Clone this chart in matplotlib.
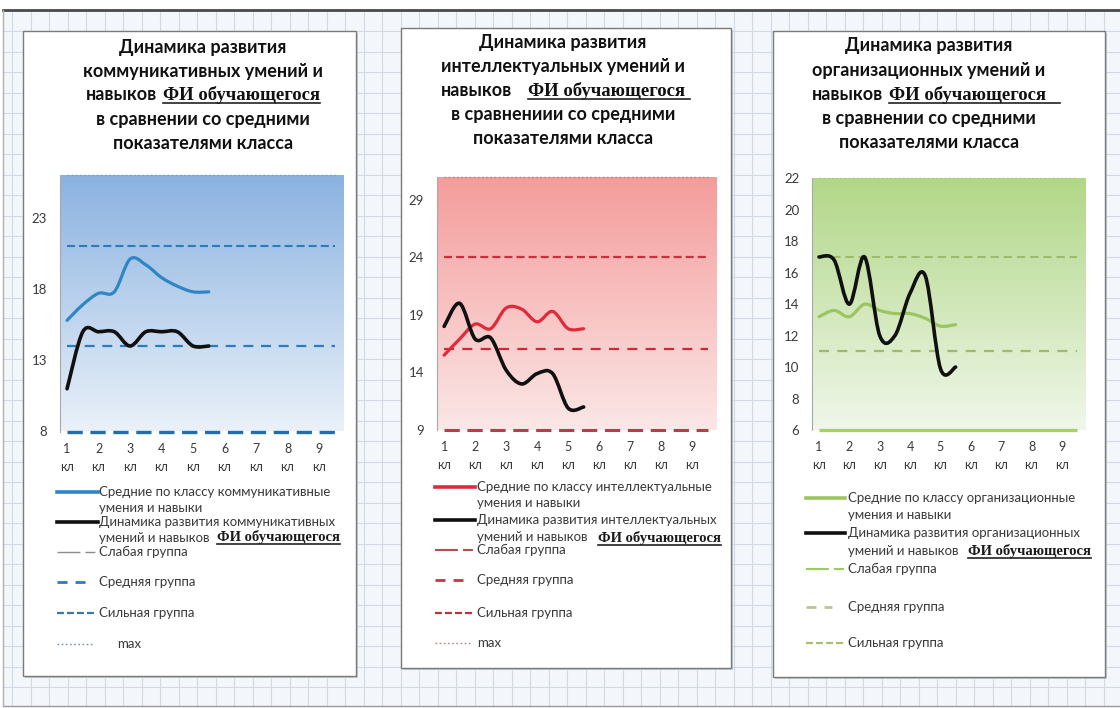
import matplotlib
matplotlib.use("Agg")
import matplotlib.pyplot as plt
from matplotlib.path import Path
from matplotlib.patches import PathPatch, Rectangle
from matplotlib.colors import LinearSegmentedColormap
from matplotlib.lines import Line2D
import numpy as np

# ---------------- data ----------------
grades = [1, 1.5, 2, 2.5, 3, 3.5, 4, 4.5, 5, 5.5]
class_positions = [1, 2, 3, 4, 5, 6, 7, 8, 9]
class_labels = ["1\nкл", "2\nкл", "3\nкл", "4\nкл", "5\nкл", "6\nкл", "7\nкл", "8\nкл", "9\nкл"]

comm_class_avg = [15.8, 16.9, 17.7, 17.8, 20.1, 19.7, 18.8, 18.2, 17.8, 17.8]
comm_student = [11.0, 15.0, 15.0, 15.0, 14.0, 15.0, 15.0, 15.0, 14.0, 14.0]
comm_levels = {"weak": 8, "medium": 14, "strong": 21, "max": 26}
comm_yticks = [8, 13, 18, 23]

intel_class_avg = [15.5, 16.9, 18.2, 17.8, 19.6, 19.5, 18.4, 19.3, 17.8, 17.8]
intel_student = [18.0, 20.0, 16.9, 17.0, 14.2, 13.0, 13.9, 13.9, 10.9, 11.0]
intel_levels = {"weak": 9, "medium": 16, "strong": 24, "max": 31}
intel_yticks = [9, 14, 19, 24, 29]

org_class_avg = [13.2, 13.6, 13.2, 14.0, 13.6, 13.4, 13.4, 13.1, 12.6, 12.7]
org_student = [17.0, 16.8, 14.0, 17.0, 12.0, 12.0, 14.7, 15.8, 9.9, 10.0]
org_levels = {"weak": 6, "medium": 11, "strong": 17, "max": 22}
org_yticks = [6, 8, 10, 12, 14, 16, 18, 20, 22]

# ---------------- setup ----------------
plt.rcParams["lines.scale_dashes"] = False
SANS = ["Lato", "Noto Sans", "DejaVu Sans"]
SERIF = ["Liberation Serif", "DejaVu Serif"]
TXT = "#3a3a3a"

W, H = 1120, 708
fig = plt.figure(figsize=(W / 100, H / 100), dpi=100)
fig.patch.set_facecolor("white")
bg = fig.add_axes([0, 0, 1, 1], zorder=0)
bg.set_xlim(0, W)
bg.set_ylim(H, 0)
bg.axis("off")
R = fig.canvas.get_renderer()

# page background with spreadsheet grid
bg.add_patch(Rectangle((3, 11), W - 3, 695, facecolor="#f3f6fa", edgecolor="none", zorder=0))
for gx in np.arange(123.3 - 18.5 * 7, W, 18.5):
    if gx > 3:
        bg.plot([gx, gx], [11, 706], color="#d0d9e5", lw=0.8, zorder=0.5)
for gy in np.arange(666.7 - 20.5 * 32, 706, 20.5):
    if gy > 11:
        bg.plot([3, W], [gy, gy], color="#d0d9e5", lw=0.8, zorder=0.5)
bg.plot([3, W], [10, 10], color="#4a4a4a", lw=2.0, zorder=1)
bg.plot([3, W], [706, 706], color="#9a9a9a", lw=1.0, zorder=1)
bg.plot([3, 3], [10, 706], color="#b0b0b0", lw=1.0, zorder=1)

# white panels
for (l, t, r, b) in [(23, 31, 356, 676), (401, 28, 731, 668), (773, 31, 1105, 677)]:
    bg.add_patch(Rectangle((l + 2, t + 2), r - l, b - t, facecolor="#c8ccd2", edgecolor="none", zorder=1))
    bg.add_patch(Rectangle((l, t), r - l, b - t, facecolor="white", edgecolor="#7a7a7a", lw=1.0, zorder=1.5))


def seg_line(xc, y, segs, ha="center"):
    """Place text segments on one line; segs: (text, kwargs, gap_after, underline_extra)."""
    items = []
    total = 0
    for s, kw, gap, ul in segs:
        t = bg.text(0, y, s, va="baseline", ha="left", zorder=3, **kw)
        w = t.get_window_extent(R).width
        items.append((t, w, gap, ul))
        total += w + gap
    x = xc - total / 2 if ha == "center" else xc
    for t, w, gap, ul in items:
        t.set_x(x)
        if ul is not None:
            bg.plot([x, x + w + ul], [y + 2.5, y + 2.5], color="#222222", lw=1.2, zorder=3)
        x += w + gap


def title(xc, ys, lines, fs=13, fs_serif=13.5, ul_extra=0, gap=6):
    kws = dict(fontsize=fs, fontweight="bold", family=SANS, color="#111111")
    kserif = dict(fontsize=fs_serif, fontweight="bold", family=SERIF, color="#111111")
    for i, (y, line) in enumerate(zip(ys, lines)):
        if i == 2:
            seg_line(xc, y + 5, [(line, kws, gap, None), ("ФИ обучающегося", kserif, 0, ul_extra)])
        else:
            seg_line(xc, y + 5, [(line, kws, 0, None)])


def smooth_path(xs, ys):
    pts = list(zip(xs, ys))
    n = len(pts)
    verts = [pts[0]]
    codes = [Path.MOVETO]
    for i in range(n - 1):
        p0 = pts[i - 1] if i > 0 else pts[i]
        p1 = pts[i]
        p2 = pts[i + 1]
        p3 = pts[i + 2] if i + 2 < n else pts[i + 1]
        c1 = (p1[0] + (p2[0] - p0[0]) / 6, p1[1] + (p2[1] - p0[1]) / 6)
        c2 = (p2[0] - (p3[0] - p1[0]) / 6, p2[1] - (p3[1] - p1[1]) / 6)
        verts += [c1, c2, p2]
        codes += [Path.CURVE4] * 3
    return Path(verts, codes)


def make_axes(rect, ylim, yticks, top_c, bot_c):
    l, t, r, b = rect
    ax = fig.add_axes([l / W, 1 - b / H, (r - l) / W, (b - t) / H], zorder=2)
    ax.patch.set_alpha(0)
    xl = (0.76, 9.76)
    cmap = LinearSegmentedColormap.from_list("g", [bot_c, top_c])
    grad = np.linspace(0, 1, 256).reshape(-1, 1)
    ax.imshow(grad, extent=[xl[0], xl[1], ylim[0], ylim[1]], origin="lower",
              aspect="auto", cmap=cmap, zorder=0, interpolation="bilinear")
    ax.set_xlim(*xl)
    ax.set_ylim(*ylim)
    ax.set_xticks(class_positions)
    ax.set_xticklabels(class_labels, linespacing=1.6, fontsize=9, family=SANS, color=TXT)
    ax.set_yticks(yticks)
    ax.set_yticklabels([str(v) for v in yticks], fontsize=9.5, family=SANS, color=TXT)
    ax.tick_params(axis="x", length=0, pad=8)
    ax.tick_params(axis="y", length=0, pad=9)
    for s in ["top", "right", "bottom"]:
        ax.spines[s].set_visible(False)
    ax.spines["left"].set_color("#a8a8a8")
    ax.spines["left"].set_linewidth(0.8)
    return ax


def draw_panel(ax, avg, student, levels, avg_c, styles):
    for key in ["max", "weak", "medium", "strong"]:
        c, lw, dash = styles[key]
        ax.hlines(levels[key], 1, 9.5, colors=c, lw=lw,
                  linestyles=[(0, dash)] if dash else "solid", zorder=2, clip_on=False)
    ax.add_patch(PathPatch(smooth_path(grades, avg), fill=False, edgecolor=avg_c, lw=2.3,
                           capstyle="round", joinstyle="round", zorder=4))
    ax.add_patch(PathPatch(smooth_path(grades, student), fill=False, edgecolor="#101010", lw=2.6,
                           capstyle="round", joinstyle="round", zorder=5))


def legend(entries, fi_pos, fs=9.5):
    ktext = dict(fontsize=fs, family=SANS, color=TXT)
    kfi = dict(fontsize=10.5, fontweight="bold", family=SERIF, color="#1a1a1a")
    for (x0, x1, yh, c, lw, dash, lines) in entries:
        bg.add_line(Line2D([x0, x1], [yh, yh], color=c, lw=lw,
                           linestyle=(0, dash) if dash else "solid", zorder=3))
        for (xt, yt, s) in lines:
            bg.text(xt, yt + 4, s, va="baseline", ha="left", zorder=3, **ktext)
    xf, yf = fi_pos
    seg_line(xf, yf + 4, [("ФИ обучающегося", kfi, 0, 0)], ha="left")


# ---------------- panel 1 ----------------
title(203, [48, 72, 95, 120, 144],
      ["Динамика развития", "коммуникативных умений и", "навыков", "в сравнении со средними", "показателями класса"])
ax1 = make_axes((59.5, 175, 343, 431.5), (8, 26), comm_yticks, "#8ab2e0", "#eaf1f9")
draw_panel(ax1, comm_class_avg, comm_student, comm_levels, "#2f86c6", {
    "max": ("#6f9ccf", 1.0, (1.2, 1.8)),
    "weak": ("#1f6eae", 2.4, (11, 5.5)),
    "medium": ("#2a7cbb", 1.6, (7.2, 5.5)),
    "strong": ("#2a7cbb", 1.5, (5.8, 2.9)),
})
legend([
    (57, 98, 492, "#2f86c6", 2.6, None, [(99, 492, "Средние по классу коммуникативные"), (99, 508, "умения и навыки")]),
    (57, 98, 522, "#101010", 2.6, None, [(99, 522, "Динамика развития коммуникативных"), (99, 538, "умений и навыков")]),
    (57, 97, 552, "#8c8c8c", 1.0, (16.5, 3.6, 7.2, 3.6), [(99, 552, "Слабая группа")]),
    (57, 88, 582, "#2a7cbb", 2.0, (7.2, 5.8), [(99, 582, "Средняя группа")]),
    (57, 97, 613, "#3a78a8", 1.6, (5, 2.2), [(99, 613, "Сильная группа")]),
    (57, 94, 644, "#7090b8", 1.0, (1.2, 1.8), [(117, 644, "max")]),
], (217, 537))

# ---------------- panel 2 ----------------
title(563, [43, 67, 91, 115, 139],
      ["Динамика развития", "интеллектуальных умений и", "навыков", "в сравнениии со средними", "показателями класса"],
      ul_extra=5, gap=16)
ax2 = make_axes((436.7, 176.7, 715.7, 430), (9, 31), intel_yticks, "#f49c9a", "#fbe7e7")
draw_panel(ax2, intel_class_avg, intel_student, intel_levels, "#e02a3a", {
    "max": ("#b87a7a", 1.0, (1.2, 1.8)),
    "weak": ("#b0404a", 2.2, (11, 5.5)),
    "medium": ("#d02838", 1.6, (7.2, 6)),
    "strong": ("#c8303c", 1.6, (5.8, 2.9)),
})
legend([
    (435, 475, 487, "#e02a3a", 2.6, None, [(477, 487, "Средние по классу интеллектуальные"), (477, 503, "умения и навыки")]),
    (435, 475, 520, "#101010", 2.6, None, [(477, 520, "Динамика развития интеллектуальных"), (477, 537, "умений и навыков")]),
    (435, 473, 550, "#b05050", 1.5, (16.5, 3.6, 7.2, 3.6), [(477, 550, "Слабая группа")]),
    (435, 463, 580, "#d03040", 2.0, (7.2, 5.8), [(477, 580, "Средняя группа")]),
    (435, 473, 613, "#c0303a", 1.6, (5, 2.2), [(477, 613, "Сильная группа")]),
    (435, 470, 643, "#c08080", 1.0, (1.2, 1.8), [(477, 643, "max")]),
], (598, 538))

# ---------------- panel 3 ----------------
title(929, [46, 71, 95, 119, 143],
      ["Динамика развития", "организационных умений и", "навыков", "в сравнении со средними", "показателями класса"],
      ul_extra=14)
ax3 = make_axes((811.7, 178.3, 1085, 430), (6, 22), org_yticks, "#b1d787", "#f0f7ea")
draw_panel(ax3, org_class_avg, org_student, org_levels, "#9cc562", {
    "max": ("#a8c880", 1.0, (1.2, 1.8)),
    "weak": ("#a6d06a", 2.4, None),
    "medium": ("#9fba6a", 1.6, (7.2, 6)),
    "strong": ("#9fba6a", 1.5, (6, 3.5)),
})
legend([
    (806, 845, 498, "#9cc562", 2.6, None, [(848, 498, "Средние по классу организационные"), (848, 515, "умения и навыки")]),
    (806, 845, 533, "#101010", 2.6, None, [(848, 533, "Динамика развития организационных"), (848, 551, "умений и навыков")]),
    (806, 845, 569, "#9ccc5a", 1.5, (16.5, 3.6, 7.2, 3.6), [(848, 569, "Слабая группа")]),
    (806, 832, 607, "#b8c890", 2.0, (7.2, 5.8), [(848, 607, "Средняя группа")]),
    (806, 845, 643, "#a8c070", 1.6, (5, 2.2), [(848, 643, "Сильная группа")]),
], (968, 551))

fig.savefig("out.png", dpi=100, facecolor=fig.get_facecolor())
